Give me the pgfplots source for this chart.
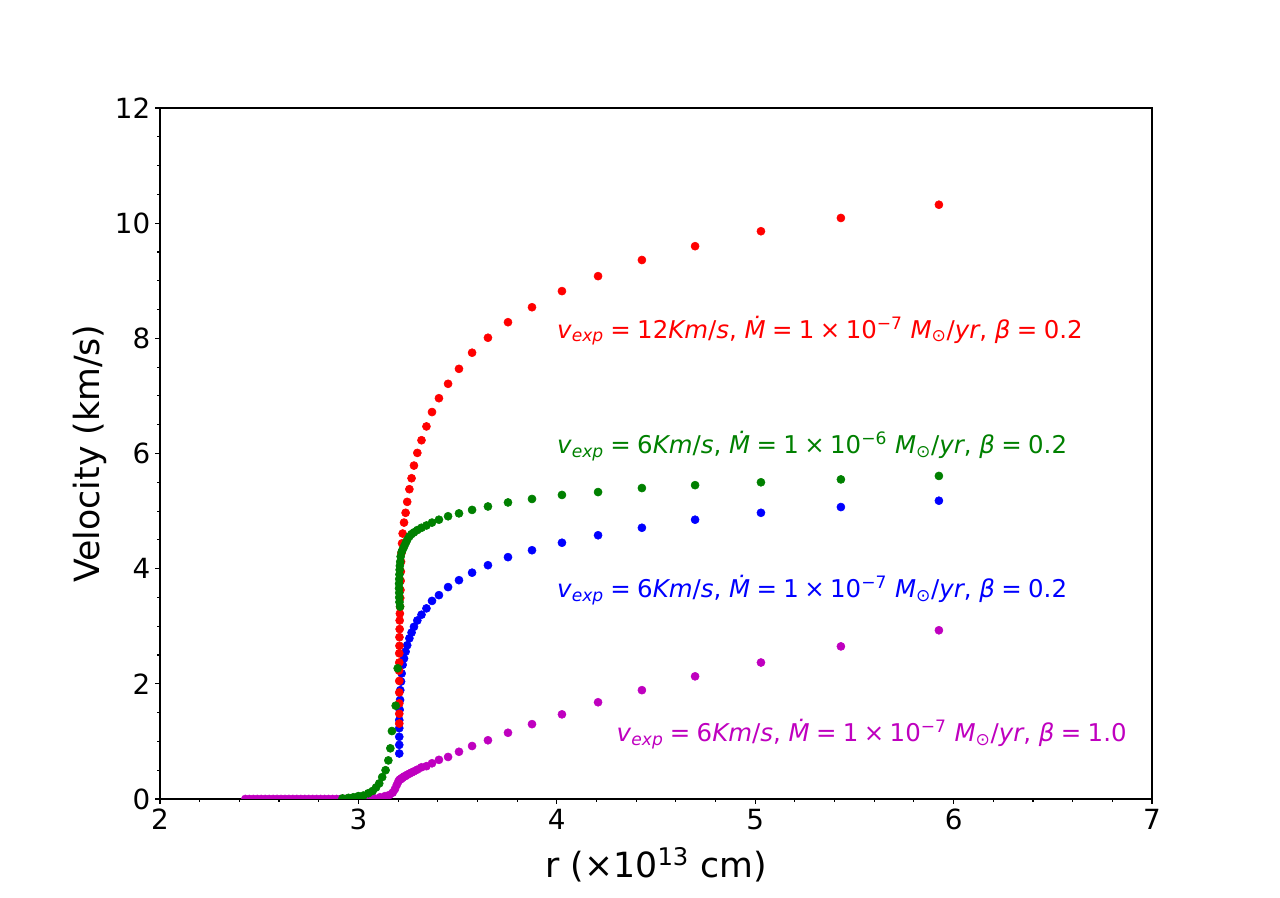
\documentclass[border=0pt]{standalone}
\usepackage{pgfplots}
\pgfplotsset{compat=1.18}
\usepackage{fontspec}
\setmainfont{DejaVu Sans}

\definecolor{mplred}{rgb}{1,0,0}
\definecolor{mplgreen}{rgb}{0,0.5,0}
\definecolor{mplblue}{rgb}{0,0,1}
\definecolor{mplmag}{rgb}{0.75,0,0.75}

\newcommand{\eqs}{\hspace{0.26em}=\hspace{0.26em}}
\newcommand{\tms}{\hspace{0.22em}×\hspace{0.22em}}
\newcommand{\lbl}[3]{\textit{v}\textsubscript{\textit{exp}}\eqs #1\textit{Km}/\textit{s}, \textit{Ṁ}\eqs 1\tms 10\textsuperscript{−#2} \textit{M}\textsubscript{⊙}/\textit{yr}, \textit{β}\eqs #3}

\begin{document}
\begin{tikzpicture}
\path[use as bounding box] (-115.2pt,-71.28pt) rectangle (806.4pt,575.28pt);
\begin{axis}[
  scale only axis,
  width=714.24pt, height=497.52pt,
  xmin=2, xmax=7, ymin=0, ymax=12,
  xtick={2,3,4,5,6,7}, ytick={0,2,4,6,8,10,12},
  minor x tick num=4, minor y tick num=3,
  xtick pos=bottom, ytick pos=left,
  tick align=outside,
  major tick length=3.5pt, minor tick length=2pt,
  every tick/.style={black, line width=0.8pt},
  axis line style={line width=0.8pt},
  ticklabel style={font=\fontsize{20}{23}\selectfont},
  /pgf/number format/assume math mode=true,
  xlabel={r (×10\textsuperscript{13} cm)},
  ylabel={Velocity (km/s)},
  label style={font=\fontsize{25}{29}\selectfont},
  xlabel style={at={(axis description cs:0.5,-0.0955)}, anchor=center},
  ylabel style={at={(axis description cs:-0.0706,0.5)}, anchor=center},
  clip marker paths=true,
  every axis plot/.append style={only marks, mark=*, mark size=2.9pt},
]
% beta = 1.0, vexp = 6 km/s, Mdot = 1e-7
\addplot[mplmag, mark options={draw=mplmag, fill=mplmag}] coordinates {
 (2.43,0) (2.45,0) (2.47,0) (2.49,0) (2.51,0) (2.53,0) (2.55,0) (2.57,0) (2.59,0)
 (2.61,0) (2.63,0) (2.65,0) (2.67,0) (2.69,0) (2.71,0) (2.73,0) (2.75,0) (2.77,0)
 (2.79,0) (2.81,0) (2.83,0) (2.85,0) (2.87,0) (2.89,0) (2.91,0) (2.93,0) (2.95,0)
 (2.97,0) (3.00,0.005) (3.04,0.01) (3.075,0.02) (3.109,0.03) (3.134,0.05)
 (3.156,0.07) (3.173,0.11) (3.184,0.17) (3.193,0.24) (3.201,0.30)
 (3.206,0.33) (3.211,0.34) (3.215,0.35) (3.218,0.36) (3.223,0.37) (3.230,0.39)
 (3.238,0.40) (3.246,0.42) (3.257,0.44) (3.268,0.46) (3.280,0.48) (3.297,0.51)
 (3.318,0.55) (3.343,0.57) (3.371,0.62) (3.406,0.68) (3.452,0.73) (3.507,0.82)
 (3.573,0.92) (3.653,1.02) (3.754,1.15) (3.875,1.30) (4.026,1.47) (4.208,1.68)
 (4.429,1.89) (4.697,2.13) (5.029,2.37) (5.432,2.65) (5.926,2.93)
};
% beta = 0.2, vexp = 6 km/s, Mdot = 1e-7
\addplot[mplblue, mark options={draw=mplblue, fill=mplblue}] coordinates {
 (3.206,0.79) (3.206,0.94) (3.206,1.08) (3.206,1.23) (3.206,1.37) (3.208,1.55)
 (3.210,1.72) (3.211,1.89) (3.215,2.04) (3.218,2.18) (3.223,2.33) (3.230,2.44)
 (3.238,2.56) (3.246,2.67) (3.257,2.79) (3.268,2.89) (3.280,2.99) (3.297,3.10)
 (3.318,3.20) (3.343,3.31) (3.371,3.44) (3.406,3.54) (3.452,3.68) (3.507,3.80)
 (3.573,3.93) (3.653,4.06) (3.754,4.20) (3.875,4.32) (4.026,4.45) (4.208,4.58)
 (4.429,4.71) (4.697,4.85) (5.029,4.97) (5.432,5.07) (5.926,5.18)
};
% beta = 0.2, vexp = 12 km/s, Mdot = 1e-7
\addplot[mplred, mark options={draw=mplred, fill=mplred}] coordinates {
 (3.206,1.31) (3.206,1.48) (3.206,1.66) (3.206,1.85) (3.206,2.05) (3.205,2.23)
 (3.206,2.37) (3.206,2.53) (3.207,2.66) (3.207,2.81) (3.208,2.95) (3.208,3.10)
 (3.209,3.22) (3.210,3.34) (3.211,3.49) (3.212,3.63) (3.213,3.79) (3.214,3.95)
 (3.215,4.12) (3.217,4.27) (3.220,4.44) (3.223,4.61) (3.230,4.80) (3.238,4.97)
 (3.246,5.16) (3.257,5.38) (3.268,5.57) (3.280,5.79) (3.297,6.01) (3.318,6.23)
 (3.343,6.47) (3.371,6.72) (3.406,6.96) (3.452,7.21) (3.507,7.47) (3.573,7.75)
 (3.653,8.01) (3.754,8.28) (3.875,8.54) (4.026,8.82) (4.208,9.08) (4.429,9.36)
 (4.697,9.60) (5.029,9.86) (5.432,10.09) (5.926,10.32)
};
% beta = 0.2, vexp = 6 km/s, Mdot = 1e-6
\addplot[mplgreen, mark options={draw=mplgreen, fill=mplgreen}] coordinates {
 (2.92,0.01) (2.95,0.02) (2.975,0.03) (3.0,0.05) (3.025,0.06)
 (3.05,0.10) (3.072,0.14) (3.089,0.20) (3.105,0.27) (3.12,0.38) (3.137,0.50)
 (3.151,0.67) (3.161,0.88) (3.169,1.18) (3.188,1.62) (3.198,2.27) (3.210,3.34)
 (3.207,3.42) (3.206,3.50) (3.206,3.58) (3.205,3.66) (3.205,3.74) (3.206,3.82)
 (3.207,3.90) (3.208,3.98) (3.209,4.05) (3.211,4.12) (3.213,4.21) (3.218,4.29)
 (3.223,4.33) (3.230,4.38) (3.238,4.44) (3.246,4.50) (3.257,4.56) (3.268,4.60)
 (3.280,4.63) (3.297,4.67) (3.318,4.71) (3.343,4.75) (3.371,4.80) (3.406,4.85)
 (3.452,4.91) (3.507,4.96) (3.573,5.02) (3.653,5.08) (3.754,5.15) (3.875,5.21)
 (4.026,5.28) (4.208,5.33) (4.429,5.40) (4.697,5.45) (5.029,5.50) (5.432,5.55)
 (5.926,5.61)
};
\begin{scope}[every node/.style={anchor=base west, inner sep=0pt, font=\fontsize{17.6}{21}\selectfont}]
\node[text=mplred]   at (axis cs:4,8)   {\lbl{12}{7}{0.2}};
\node[text=mplgreen] at (axis cs:4,6)   {\lbl{6}{6}{0.2}};
\node[text=mplblue]  at (axis cs:4,3.5) {\lbl{6}{7}{0.2}};
\node[text=mplmag]   at (axis cs:4.3,1.0) {\lbl{6}{7}{1.0}};
\end{scope}
\end{axis}
\end{tikzpicture}
\end{document}
